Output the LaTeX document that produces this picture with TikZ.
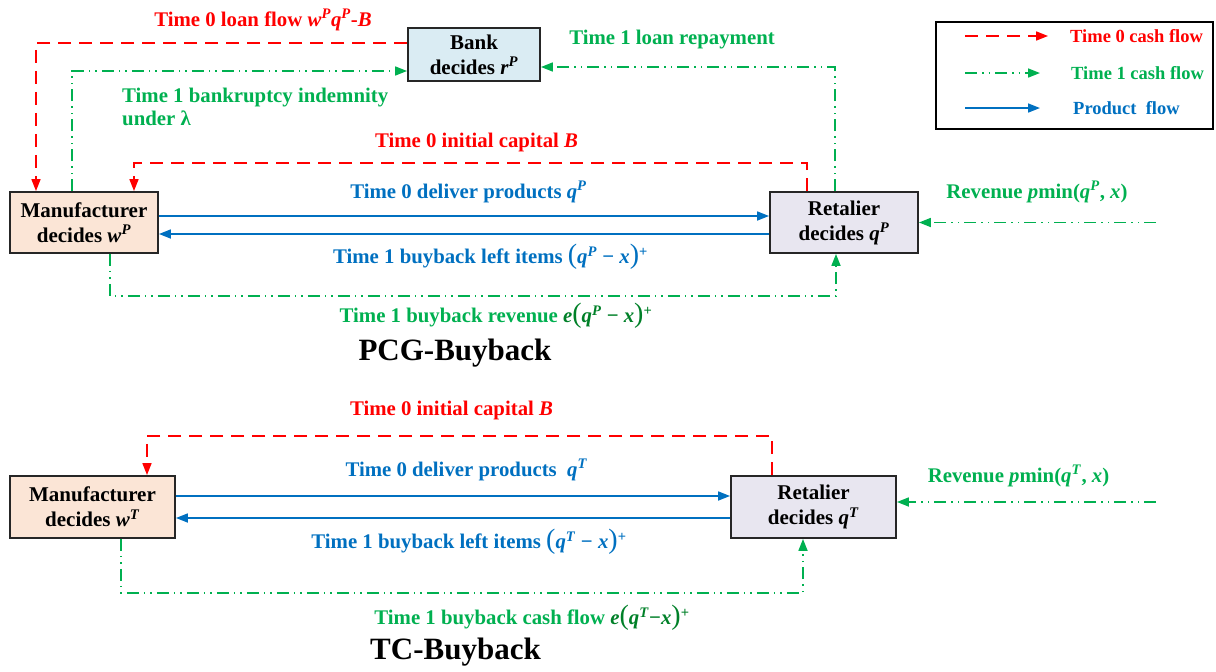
\documentclass[tikz,border=0pt]{standalone}
\usepackage{fontspec}
\setmainfont{Liberation Serif}
\usetikzlibrary{arrows.meta}
\definecolor{cred}{RGB}{255,0,0}
\definecolor{cgreen}{RGB}{0,176,80}
\definecolor{cdgreen}{RGB}{0,128,40}
\definecolor{cblue}{RGB}{0,112,192}
\definecolor{fman}{RGB}{251,229,214}
\definecolor{fret}{RGB}{232,230,240}
\definecolor{fbank}{RGB}{218,236,243}
\newcommand{\bigp}[1]{{\mdseries\fontsize{28}{28}\selectfont #1}}
\begin{document}
\begin{tikzpicture}[x=1pt,y=-1pt,
  box/.style={draw=black!85,line width=1.8pt,align=center,inner sep=2pt,
    font=\bfseries\fontsize{21}{25}\selectfont},
  lbl/.style={font=\bfseries\fontsize{20.8}{23}\selectfont,inner sep=0pt},
  leglbl/.style={font=\bfseries\fontsize{18.5}{22}\selectfont,inner sep=0pt,anchor=west},
  ttl/.style={font=\bfseries\fontsize{31}{36}\selectfont,inner sep=0pt},
  tip/.style={-{Triangle[length=12pt,width=9pt]}},
  cashzero/.style={cred,line width=1.7pt,dash pattern=on 13pt off 8pt,tip},
  cashone/.style={cgreen,line width=1.7pt,dash pattern=on 12pt off 5pt on 1.5pt off 5pt on 1.5pt off 5pt,tip},
  prod/.style={cblue,line width=1.7pt,tip}]
\useasboundingbox (0,0) rectangle (1216,672);

% ---------------- PCG-Buyback ----------------
\node[box,fill=fbank,minimum width=132pt,minimum height=53pt] (bank) at (474,54.5) {Bank\\decides \textit{r}\textsuperscript{\textit{P}}};
\node[box,fill=fman,minimum width=148pt,minimum height=61pt] (m1) at (84,222.5) {Manufacturer\\decides \textit{w}\textsuperscript{\textit{P}}};
\node[box,fill=fret,minimum width=148pt,minimum height=61pt] (r1) at (844,222.5) {Retalier\\decides \textit{q}\textsuperscript{\textit{P}}};

\node[lbl,text=cred] (l1) at (263,20) {Time 0 loan flow \textit{w}\textsuperscript{\textit{P}}\textit{q}\textsuperscript{\textit{P}}-\textit{B}};
\node[lbl,text=cgreen] (l2) at (672,40) {Time 1 loan repayment};
\node[lbl,text=cgreen,anchor=west,align=left] (l3) at (122,106.5) {Time 1 bankruptcy indemnity\\under λ};
\node[lbl,text=cred] (l4) at (476.5,142) {Time 0 initial capital \textit{B}};
\node[lbl,text=cblue] (l5) at (468.5,192) {Time 0 deliver products \textit{q}\textsuperscript{\textit{P}}};
\node[lbl,text=cblue] (l6) at (490.5,257) {Time 1 buyback left items \bigp{(}\textit{q}\textsuperscript{\textit{P}} − \textit{x}\bigp{)}\textsuperscript{+}};
\node[lbl,text=cgreen] (l7) at (496,316) {Time 1 buyback revenue {\color{cdgreen}\textit{e}\bigp{(}\textit{q}\textsuperscript{\textit{P}} − \textit{x}\bigp{)}\textsuperscript{+}}};
\node[ttl] (t1) at (455,353) {PCG-Buyback};
\node[lbl,text=cgreen] (l8) at (1037,192) {Revenue \textit{p}min(\textit{q}\textsuperscript{\textit{P}}, \textit{x})};

\coordinate (rev1) at (1156,222.5);

\draw[cashzero] (bank.west |- 0,43) -- (36,43) -- (m1.north -| 36,0);
\draw[cashone] (m1.north -| 72,0) -- (72,71) -- (bank.west |- 0,71);
\draw[cashone] (r1.north -| 835,0) -- (835,67) -- (bank.east |- 0,67);
\draw[cashzero] (r1.north -| 807,0) -- (807,163) -- (134,163) -- (m1.north -| 134,0);
\draw[prod] (m1.east |- 0,216) -- (r1.west |- 0,216);
\draw[prod] (r1.west |- 0,234) -- (m1.east |- 0,234);
\draw[cashone] (m1.south -| 110,0) -- (110,296) -- (836,296) -- (r1.south -| 836,0);
\draw[cashone] (rev1) -- (r1.east |- rev1);

% ---------------- Legend ----------------
\node[draw=black,line width=1.5pt,minimum width=277pt,minimum height=107pt,inner sep=0pt] (leg) at (1074.5,75.5) {};
\coordinate (la1) at (965,36); \coordinate (lb1) at (1048,36);
\coordinate (la2) at (965,73); \coordinate (lb2) at (1040,73);
\coordinate (la3) at (965,108); \coordinate (lb3) at (1040,108);
\draw[cashzero] (la1) -- (lb1);
\draw[cashone] (la2) -- (lb2);
\draw[prod] (la3) -- (lb3);
\node[leglbl,text=cred] (g1) at (1070,36) {Time 0 cash flow};
\node[leglbl,text=cgreen] (g2) at (1071,73) {Time 1 cash flow};
\node[leglbl,text=cblue] (g3) at (1073,108) {Product\ \ flow};

% ---------------- TC-Buyback ----------------
\node[box,fill=fman,minimum width=165pt,minimum height=62pt] (m2) at (92.5,507) {Manufacturer\\decides \textit{w}\textsuperscript{\textit{T}}};
\node[box,fill=fret,minimum width=165pt,minimum height=62pt] (r2) at (813.5,507) {Retalier\\decides \textit{q}\textsuperscript{\textit{T}}};

\node[lbl,text=cred] (k1) at (451.5,410) {Time 0 initial capital \textit{B}};
\node[lbl,text=cblue] (k2) at (466.5,470) {Time 0 deliver products\ \ \textit{q}\textsuperscript{\textit{T}}};
\node[lbl,text=cblue] (k3) at (469,542) {Time 1 buyback left items \bigp{(}\textit{q}\textsuperscript{\textit{T}} − \textit{x}\bigp{)}\textsuperscript{+}};
\node[lbl,text=cgreen] (k4) at (532,618) {Time 1 buyback cash flow {\color{cdgreen}\textit{e}\bigp{(}\textit{q}\textsuperscript{\textit{T}}−\textit{x}\bigp{)}\textsuperscript{+}}};
\node[ttl] (t2) at (455.5,652) {TC-Buyback};
\node[lbl,text=cgreen] (k5) at (1018.5,476) {Revenue \textit{p}min(\textit{q}\textsuperscript{\textit{T}}, \textit{x})};

\coordinate (rev2) at (1156,502);

\draw[cashzero] (r2.north -| 772,0) -- (772,436) -- (147,436) -- (m2.north -| 147,0);
\draw[prod] (m2.east |- 0,496) -- (r2.west |- 0,496);
\draw[prod] (r2.west |- 0,518) -- (m2.east |- 0,518);
\draw[cashone] (m2.south -| 121,0) -- (121,593) -- (803,593) -- (r2.south -| 803,0);
\draw[cashone] (rev2) -- (r2.east |- rev2);
\end{tikzpicture}
\end{document}
